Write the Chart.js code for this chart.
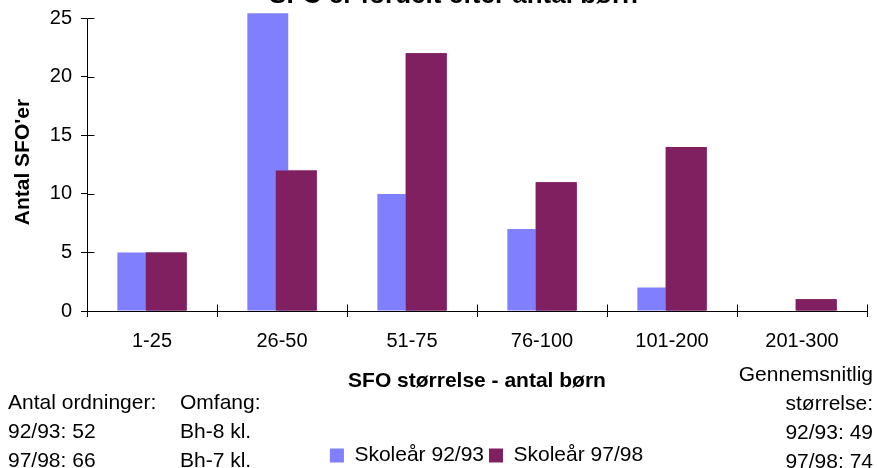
<!DOCTYPE html>
<html>
<head>
<meta charset="utf-8">
<title>SFO'er fordelt efter antal børn</title>
<script src="https://cdn.jsdelivr.net/npm/chart.js@4.4.1/dist/chart.umd.min.js"></script>
<style>
body { margin: 0; background: #fff; }
#wrap { position: relative; width: 877px; height: 468px; overflow: hidden;
        font-family: "Liberation Sans", Arial, sans-serif; font-size: 21px; color: #000; }
#mycanvas { position: absolute; left: 0; top: 0; }
.note { position: absolute; line-height: 29px; white-space: nowrap; }
</style>
</head>
<body>
<div id="wrap">
	<canvas id="mycanvas" width="877" height="468"></canvas>
	<div class="note" style="left:8px; top:387px;">Antal ordninger:<br>92/93: 52<br>97/98: 66</div>
	<div class="note" style="left:180px; top:387px;">Omfang:<br>Bh-8 kl.<br>Bh-7 kl.</div>
	<div class="note" style="right:4px; top:359px; text-align:right;">Gennemsnitlig<br>størrelse:<br>92/93: 49<br>97/98: 74</div>
</div>
<script>
var categories = ["1-25", "26-50", "51-75", "76-100", "101-200", "201-300"];
var skole9293 = [5, 28, 10, 7, 2, 0];
var skole9798 = [5, 12, 22, 11, 14, 1];
var yTicks = [0, 5, 10, 15, 20, 25];

var fam = '"Liberation Sans", Arial, sans-serif';
Chart.defaults.font.family = fam;
Chart.defaults.color = "#000";

// second series is painted over the first where the bars overlap
var overlapPlugin = {
	id: "overlap",
	afterDatasetsDraw: function(chart) {
		var a = chart.chartArea;
		var ctx = chart.ctx;
		ctx.save();
		ctx.beginPath();
		ctx.rect(a.left, a.top, a.right - a.left, a.bottom - a.top);
		ctx.clip();
		chart.getDatasetMeta(1).controller.draw();
		ctx.restore();
	}
};

// inner half of the cross tick marks + y axis line over the tick range only
var axisMarks = {
	id: "axisMarks",
	afterDraw: function(chart) {
		var ctx = chart.ctx, xs = chart.scales.x, ys = chart.scales.y;
		var left = Math.round(chart.chartArea.left) + 0.5;
		var bottom = Math.round(chart.chartArea.bottom) + 0.5;
		ctx.save();
		ctx.strokeStyle = "#000";
		ctx.lineWidth = 1;
		ctx.beginPath();
		ctx.moveTo(left, Math.round(ys.getPixelForValue(yTicks[yTicks.length - 1])) + 0.5);
		ctx.lineTo(left, bottom);
		for (var i = 0; i < yTicks.length; i++) {
			var py = Math.round(ys.getPixelForValue(yTicks[i])) + 0.5;
			ctx.moveTo(left, py);
			ctx.lineTo(left + 7, py);
		}
		for (var j = 0; j <= categories.length; j++) {
			var px = Math.round(xs.getPixelForValue(j - 0.5)) + 0.5;
			ctx.moveTo(px, bottom);
			ctx.lineTo(px, bottom - 7);
		}
		ctx.stroke();
		ctx.restore();
	}
};

// title and legend sit off-centre in the original
var shiftBoxes = {
	id: "shiftBoxes",
	afterLayout: function(chart) {
		var t = chart.titleBlock, l = chart.legend;
		t.left += 20; t.right += 20;
		l.left += 53; l.right += 53;
		l.top += 8; l.bottom += 8;
	}
};

var chartdata = {
	labels: categories,
	datasets: [
		{
			label: "Skoleår 92/93",
			backgroundColor: "#8080ff",
			categoryPercentage: 0.437,
			barPercentage: 1.44,
			data: skole9293
		},
		{
			label: "Skoleår 97/98",
			backgroundColor: "#802060",
			categoryPercentage: 0.437,
			barPercentage: 1.44,
			data: skole9798
		}
	]
};

var ctx = document.getElementById("mycanvas");

var BarGraph = new Chart(ctx, {
	type: "bar",
	data: chartdata,
	options: {
		responsive: false,
		animation: false,
		layout: { padding: { left: 0, right: 10, top: 0, bottom: 0 } },
		plugins: {
			title: {
				display: true,
				text: "SFO'er fordelt efter antal børn",
				color: "#000",
				font: { family: fam, size: 26, weight: "bold" },
				padding: { top: -20, bottom: 2 }
			},
			legend: {
				position: "bottom",
				labels: {
					boxWidth: 14,
					boxHeight: 14,
					padding: 5,
					color: "#000",
					font: { family: fam, size: 21 }
				}
			},
			tooltip: { enabled: false }
		},
		scales: {
			x: {
				grid: { drawOnChartArea: false, tickLength: 6, color: "#000", offset: true },
				border: { color: "#000" },
				ticks: { color: "#000", font: { size: 20 }, padding: 12, maxRotation: 0, autoSkip: false },
				title: {
					display: true,
					text: "SFO størrelse - antal børn",
					color: "#000",
					font: { size: 21, weight: "bold" },
					padding: { top: 0, bottom: 38 }
				},
				afterFit: function(s) { s.height = 121; }
			},
			y: {
				min: 0,
				max: 25.43,
				afterBuildTicks: function(s) {
					s.ticks = yTicks.map(function(v) { return { value: v }; });
				},
				grid: { drawOnChartArea: false, tickLength: 6, color: "#000" },
				border: { display: false },
				ticks: { color: "#000", font: { size: 20 }, padding: 9 },
				title: {
					display: true,
					text: "Antal SFO'er",
					color: "#000",
					font: { size: 21, weight: "bold" },
					padding: { top: 11, bottom: 0 }
				},
				afterFit: function(s) {
					s.width = 87;
					s.paddingTop = 0;
				}
			}
		}
	},
	plugins: [overlapPlugin, axisMarks, shiftBoxes]
});
</script>
</body>
</html>
